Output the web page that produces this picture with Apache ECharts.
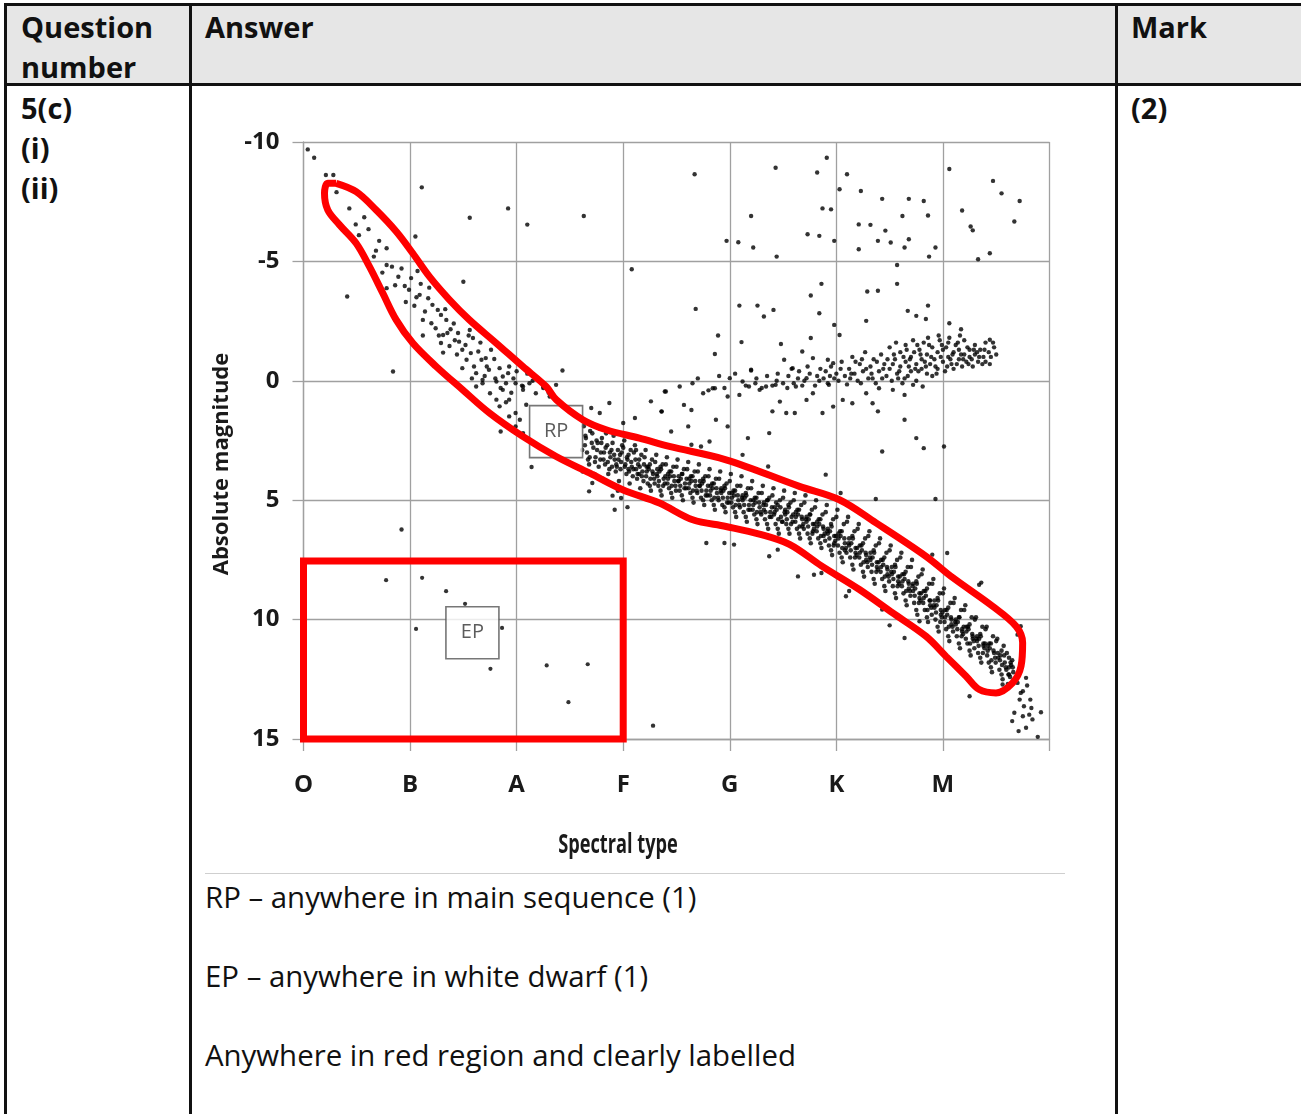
<!DOCTYPE html>
<html>
<head>
<meta charset="utf-8">
<script src="https://cdn.jsdelivr.net/npm/echarts@6/dist/echarts.min.js"></script>
<style>
	body{margin:0;width:1301px;height:1114px;background:#fff;overflow:hidden;position:relative;font-family:"Open Sans",sans-serif;color:#111;}
	.rule{position:absolute;background:#111;}
	.txt{position:absolute;font-size:29.4px;line-height:40px;white-space:nowrap;}
	.b{font-weight:bold;font-size:29px;}
	#chart{position:absolute;left:0;top:0;width:1301px;height:1114px;}
</style>
</head>
<body>
<div style="position:absolute;left:7px;top:6px;width:1294px;height:77px;background:#e6e6e6;"></div>
<div class="rule" style="left:4px;top:3px;width:1297px;height:3px;"></div>
<div class="rule" style="left:4px;top:83px;width:1297px;height:3px;"></div>
<div class="rule" style="left:4px;top:3px;width:3px;height:1111px;"></div>
<div class="rule" style="left:189px;top:3px;width:3px;height:1111px;"></div>
<div class="rule" style="left:1115px;top:3px;width:3px;height:1111px;"></div>

<div class="txt b" style="left:21px;top:7px;">Question<br>number</div>
<div class="txt b" style="left:205px;top:7px;">Answer</div>
<div class="txt b" style="left:1131px;top:7px;">Mark</div>
<div class="txt b" style="left:21px;top:88px;">5(c)<br>(i)<br>(ii)</div>
<div class="txt b" style="left:1131px;top:88px;">(2)</div>

<div style="position:absolute;left:205px;top:873px;width:860px;height:1px;background:#cfcfcf;"></div>
<div class="txt" style="left:205px;top:877px;">RP – anywhere in main sequence (1)</div>
<div class="txt" style="left:205px;top:956px;">EP – anywhere in white dwarf (1)</div>
<div class="txt" style="left:205px;top:1035px;">Anywhere in red region and clearly labelled</div>

<div id="chart"></div>
<script>
	var spectralLabels = ["O","B","A","F","G","K","M",""];
	var magnitudeMin = -10, magnitudeMax = 15, magnitudeStep = 5;
	var xTitle = "Spectral type";
	var yTitle = "Absolute magnitude";

	// main sequence, upper part (O to A)
	var mainUpper = [
		[0.31,-7.9],[0.43,-7.22],[0.49,-6.55],[0.57,-6.85],[0.61,-6.35],[0.71,-5.86],[0.68,-5.45],[0.78,-5.55],
		[0.78,-4.85],[0.74,-4.53],[0.83,-4.78],[0.89,-4.36],[0.95,-3.97],[0.78,-3.88],[1.01,-4.30],[1.10,-4.06],
		[0.99,-3.81],[1.04,-3.14],[1.09,-3.6],[1.17,-3.46],[1.21,-3.18],[1.26,-2.97],[1.12,-2.55],[1.20,-2.41],
		[1.29,-2.76],[1.34,-2.55],[1.38,-2.16],[1.31,-1.92],[1.29,-1.58],[1.37,-1.46],[1.45,-2.0],[1.46,-1.64],
		[1.49,-1.30],[1.56,-2.13],[1.59,-1.79],[1.31,-1.18],[1.53,-0.88],[1.57,-1.16],[1.64,-1.23],[1.67,-0.88],
		[1.71,-0.95],[1.79,-0.91],[1.49,-0.53],[1.62,-0.32],[1.74,-0.46],[1.84,-0.53],[1.87,-0.18],[1.92,-0.32],
		[1.93,-0.6],[1.68,0.1],[1.81,0.03],[1.99,0.1],[2.06,0.24],[0.52,-6.1],[0.66,-5.2],[0.86,-4.0],[0.92,-4.7],
		[1.06,-3.5],[1.14,-2.9],[1.24,-2.2],[1.42,-1.7],[1.52,-1.5],[1.60,-0.6],[1.70,-0.2],[1.76,-1.3],[1.85,0.3],
		[1.95,0.5],[1.62,0.24],[1.75,0.52],[1.87,0.38],[1.84,1.07],[1.93,0.79],[1.99,1.35],[2.06,0.38],[2.03,1.63],
		[2.09,1.0],[1.93,1.49],[1.81,0.79],[1.68,-0.04],[1.90,0.10],[2.12,0.10],[2.18,0.52],[2.25,0.24],[2.31,0.66],
		[2.37,0.17],[1.99,1.91],[2.06,2.19],[2.1,-0.3],[2.15,0.0],[2.2,-0.1],[2.25,0.3],[2.0,-0.4],[2.05,0.2],
		[2.3,0.5],[2.35,0.7],[1.18,-3.9],[1.33,-3.0],[1.41,-2.4],[1.55,-1.9],[1.66,-1.6],[1.72,-0.6],[1.80,-0.1],
		[1.90,0.9],[1.97,-0.1],[1.44,-1.1],[1.58,-0.1],[1.35,-2.0],[1.27,-1.9],[1.07,-4.6],[0.96,-3.3]
	];

	// main sequence, F to M (dense band)
	var mainLower = [
		[2.63,1.9],[2.65,2.4],[2.66,3.0],[2.68,3.5],[2.64,2.7],[2.69,2.1],[2.67,3.3],[2.62,3.8],
		[2.71,2.2],[2.72,2.8],[2.74,3.2],[2.75,2.5],[2.77,3.6],[2.78,2.0],[2.73,3.9],[2.79,3.0],[2.76,2.6],
		[2.80,2.4],[2.82,3.0],[2.83,3.5],[2.85,2.7],[2.86,3.9],[2.88,3.2],[2.81,4.1],[2.84,2.2],[2.87,3.7],[2.89,2.9],
		[2.90,2.6],[2.92,3.3],[2.93,3.8],[2.95,2.9],[2.96,4.2],[2.98,3.4],[2.91,2.3],[2.94,3.6],[2.97,3.1],[2.99,2.7],[2.95,4.6],
		[3.00,2.8],[3.02,3.5],[3.03,3.9],[3.05,3.1],[3.06,4.3],[3.08,3.6],[3.01,2.5],[3.04,3.3],[3.07,2.9],[3.09,4.0],[3.05,3.7],
		[3.10,3.0],[3.12,3.7],[3.13,4.1],[3.15,3.3],[3.16,4.5],[3.18,3.8],[3.11,2.7],[3.14,3.5],[3.17,3.1],[3.19,4.2],[3.15,3.9],[3.12,2.9],
		[3.20,3.2],[3.22,3.8],[3.23,4.3],[3.25,3.5],[3.26,4.6],[3.28,3.9],[3.21,2.9],[3.24,3.7],[3.27,3.3],[3.29,4.1],[3.25,4.4],[3.22,3.6],
		[3.30,3.4],[3.32,4.0],[3.33,4.4],[3.35,3.6],[3.36,4.8],[3.38,4.1],[3.31,3.1],[3.34,3.8],[3.37,3.5],[3.39,4.3],[3.35,4.6],[3.32,3.7],
		[3.40,3.5],[3.42,4.1],[3.43,4.5],[3.45,3.8],[3.46,4.9],[3.48,4.2],[3.41,3.2],[3.44,4.0],[3.47,3.6],[3.49,4.4],[3.45,4.7],[3.42,3.9],
		[3.50,3.6],[3.52,4.2],[3.53,4.6],[3.55,3.9],[3.56,5.0],[3.58,4.3],[3.51,3.3],[3.54,4.1],[3.57,3.7],[3.59,4.5],[3.55,4.8],[3.52,4.0],
		[3.60,3.7],[3.62,4.3],[3.63,4.7],[3.65,4.0],[3.66,5.1],[3.68,4.4],[3.61,3.4],[3.64,4.2],[3.67,3.8],[3.69,4.6],[3.65,4.9],[3.62,4.1],
		[3.70,3.8],[3.72,4.4],[3.73,4.9],[3.75,4.1],[3.76,5.2],[3.78,4.6],[3.71,3.5],[3.74,4.3],[3.77,4.0],[3.79,4.8],[3.75,5.0],[3.72,4.2],
		[3.80,4.0],[3.82,4.6],[3.83,5.0],[3.85,4.3],[3.86,5.4],[3.88,4.7],[3.81,3.7],[3.84,4.5],[3.87,4.1],[3.89,4.9],[3.85,5.2],[3.82,4.4],
		[3.90,4.1],[3.92,4.7],[3.93,5.2],[3.95,4.4],[3.96,5.5],[3.98,4.9],[3.91,3.8],[3.94,4.6],[3.97,4.3],[3.99,5.1],[3.95,5.3],[3.92,4.5],
		[4.00,4.2],[4.02,4.9],[4.03,5.3],[4.05,4.6],[4.06,5.7],[4.08,5.0],[4.01,3.9],[4.04,4.8],[4.07,4.4],[4.09,5.2],[4.05,5.5],[4.02,4.7],
		[4.10,4.4],[4.12,5.0],[4.13,5.5],[4.15,4.7],[4.16,5.9],[4.18,5.2],[4.11,4.0],[4.14,4.9],[4.17,4.5],[4.19,5.4],[4.15,5.7],[4.12,4.8],
		[4.20,4.5],[4.22,5.2],[4.23,5.6],[4.25,4.9],[4.26,6.0],[4.28,5.3],[4.21,4.2],[4.24,5.1],[4.27,4.7],[4.29,5.5],[4.25,5.8],[4.22,5.0],
		[4.30,4.7],[4.32,5.4],[4.33,5.8],[4.35,5.0],[4.36,6.2],[4.38,5.5],[4.31,4.4],[4.34,5.2],[4.37,4.9],[4.39,5.7],[4.35,6.0],[4.32,5.1],
		[4.40,4.8],[4.42,5.5],[4.43,6.0],[4.45,5.2],[4.46,6.4],[4.48,5.7],[4.41,4.5],[4.44,5.4],[4.47,5.0],[4.49,5.9],[4.45,6.2],[4.42,5.3],
		[4.50,4.9],[4.52,5.6],[4.53,6.0],[4.55,5.2],[4.56,6.4],[4.58,5.7],[4.51,4.6],[4.54,5.5],[4.57,5.1],[4.59,5.9],[4.55,6.2],[4.52,5.4],
		[4.60,5.0],[4.62,5.7],[4.63,6.2],[4.65,5.4],[4.66,6.6],[4.68,5.8],[4.61,4.7],[4.64,5.6],[4.67,5.2],[4.69,6.0],[4.65,6.4],[4.62,5.5],[4.68,6.1],
		[4.70,5.1],[4.72,5.9],[4.73,6.4],[4.75,5.6],[4.76,6.8],[4.78,6.0],[4.71,4.8],[4.74,5.8],[4.77,5.4],[4.79,6.2],[4.75,6.6],[4.72,5.7],[4.78,6.3],
		[4.80,5.3],[4.82,6.1],[4.83,6.6],[4.85,5.8],[4.86,7.0],[4.88,6.2],[4.81,5.0],[4.84,6.0],[4.87,5.6],[4.89,6.4],[4.85,6.8],[4.82,5.9],[4.88,6.5],
		[4.90,5.5],[4.92,6.4],[4.93,6.9],[4.95,6.0],[4.96,7.3],[4.98,6.5],[4.91,5.2],[4.94,6.3],[4.97,5.8],[4.99,6.7],[4.95,7.1],[4.92,6.2],[4.98,6.8],
		[5.00,5.7],[5.02,6.6],[5.03,7.2],[5.05,6.3],[5.06,7.6],[5.08,6.8],[5.01,5.4],[5.04,6.5],[5.07,6.0],[5.09,7.0],[5.05,7.4],[5.02,6.4],[5.08,7.1],
		[5.10,5.9],[5.12,6.9],[5.13,7.4],[5.15,6.5],[5.16,7.9],[5.18,7.0],[5.11,5.7],[5.14,6.8],[5.17,6.3],[5.19,7.3],[5.15,7.7],[5.12,6.6],[5.18,7.2],
		[5.20,6.2],[5.22,7.2],[5.23,7.7],[5.25,6.8],[5.26,8.2],[5.28,7.3],[5.21,6.0],[5.24,7.1],[5.27,6.6],[5.29,7.6],[5.25,8.0],[5.22,6.9],[5.28,7.5],
		[5.30,6.5],[5.32,7.5],[5.33,8.0],[5.35,7.1],[5.36,8.5],[5.38,7.6],[5.31,6.3],[5.34,7.4],[5.37,6.9],[5.39,7.9],[5.35,8.3],[5.32,7.2],[5.38,7.8],
		[5.40,6.8],[5.42,7.8],[5.43,8.3],[5.45,7.4],[5.46,8.8],[5.48,7.9],[5.41,6.6],[5.44,7.7],[5.47,7.2],[5.49,8.2],[5.45,8.6],[5.42,7.5],[5.48,8.1],
		[5.50,7.1],[5.52,8.1],[5.53,8.6],[5.55,7.7],[5.56,9.1],[5.58,8.2],[5.51,6.9],[5.54,8.0],[5.57,7.5],[5.59,8.5],[5.55,8.9],[5.52,7.8],[5.58,8.4],
		[5.60,7.4],[5.62,8.4],[5.63,8.9],[5.65,8.0],[5.66,9.4],[5.68,8.5],[5.61,7.2],[5.64,8.3],[5.67,7.8],[5.69,8.8],[5.65,9.2],[5.62,8.1],[5.68,8.7],
		[5.70,7.8],[5.72,8.8],[5.73,9.3],[5.75,8.4],[5.76,9.8],[5.78,8.9],[5.71,7.5],[5.74,8.7],[5.77,8.2],[5.79,9.2],[5.75,9.6],[5.72,8.5],[5.78,9.1],
		[5.80,8.1],[5.82,9.1],[5.83,9.6],[5.85,8.7],[5.86,10.1],[5.88,9.2],[5.81,7.9],[5.84,9.0],[5.87,8.5],[5.89,9.5],[5.85,9.9],[5.82,8.8],[5.88,9.4],
		[5.90,8.5],[5.92,9.5],[5.93,10.0],[5.95,9.1],[5.96,10.5],[5.98,9.6],[5.91,8.3],[5.94,9.4],[5.97,8.9],[5.99,9.9],[5.95,10.3],[5.92,9.2],[5.98,9.8],
		[6.00,8.9],[6.02,9.9],[6.03,10.4],[6.05,9.5],[6.06,10.9],[6.08,10.0],[6.01,8.7],[6.04,9.8],[6.07,9.3],[6.09,10.3],[6.05,10.7],[6.02,9.6],[6.08,10.2],
		[6.10,9.3],[6.12,10.2],[6.13,10.7],[6.15,9.9],[6.16,11.2],[6.18,10.4],[6.11,9.1],[6.14,10.1],[6.17,9.6],[6.19,10.6],[6.15,11.0],[6.12,10.0],[6.18,10.5],
		[6.20,9.6],[6.22,10.5],[6.23,11.0],[6.25,10.2],[6.26,11.5],[6.28,10.7],[6.21,9.4],[6.24,10.4],[6.27,9.9],[6.29,10.9],[6.25,11.3],[6.22,10.3],[6.28,10.8],
		[6.30,10.0],[6.32,10.9],[6.33,11.4],[6.35,10.6],[6.36,11.8],[6.38,11.1],[6.31,9.9],[6.34,10.8],[6.37,10.3],[6.39,11.2],[6.35,11.6],[6.32,10.7],[6.38,11.0],
		[6.40,10.4],[6.42,11.3],[6.43,11.8],[6.45,11.0],[6.46,12.2],[6.48,11.4],[6.41,10.3],[6.44,11.2],[6.47,10.7],[6.49,11.6],[6.45,12.0],[6.42,11.1],
		[6.50,10.9],[6.52,11.6],[6.53,12.1],[6.55,11.3],[6.56,12.5],[6.58,11.8],[6.51,10.8],[6.54,11.5],[6.57,11.1],[6.59,12.0],[6.55,12.3],
		[6.60,11.4],[6.62,12.0],[6.63,12.4],[6.65,11.7],[6.61,12.7],[6.64,11.9],[6.66,12.2],[6.62,11.6]
	];

	// extra stars along the middle of the band, where it is darkest
	var mainCore = [
		[2.615,2.9],[2.645,2.3],[2.685,3.2],[2.705,2.6],[2.735,3.4],[2.755,2.9],[2.785,3.3],[2.795,2.6],
		[2.815,3.3],[2.835,2.8],[2.855,3.4],[2.875,3.0],[2.895,3.6],[2.915,3.1],[2.935,3.5],[2.955,3.3],[2.975,3.7],[2.985,3.0],
		[3.015,3.6],[3.035,3.2],[3.055,3.8],[3.075,3.4],[3.095,3.7],[3.115,3.3],[3.135,3.9],[3.155,3.6],[3.175,4.0],[3.195,3.5],
		[3.215,4.0],[3.235,3.6],[3.255,4.1],[3.275,3.8],[3.295,4.3],[3.315,3.9],[3.335,4.2],[3.355,3.7],[3.375,4.4],[3.395,4.0],
		[3.415,4.3],[3.435,3.8],[3.455,4.4],[3.475,4.0],[3.495,4.6],[3.515,4.2],[3.535,4.4],[3.555,3.9],[3.575,4.5],[3.595,4.1],
		[3.615,4.5],[3.635,4.0],[3.655,4.6],[3.675,4.2],[3.695,4.7],[3.715,4.4],[3.735,4.6],[3.755,4.2],[3.775,4.8],[3.795,4.4],
		[3.815,4.8],[3.835,4.3],[3.855,4.9],[3.875,4.5],[3.895,5.0],[3.915,4.6],[3.935,4.9],[3.955,4.5],[3.975,5.1],[3.995,4.7],
		[4.015,5.1],[4.035,4.6],[4.055,5.2],[4.075,4.8],[4.095,5.3],[4.115,4.9],[4.135,5.2],[4.155,4.8],[4.175,5.4],[4.195,5.0],
		[4.215,5.4],[4.235,4.9],[4.255,5.5],[4.275,5.1],[4.295,5.6],[4.315,5.2],[4.335,5.5],[4.355,5.0],[4.375,5.7],[4.395,5.3],
		[4.415,5.6],[4.435,5.1],[4.455,5.8],[4.475,5.3],[4.495,5.9],[4.515,5.5],[4.535,5.8],[4.555,5.3],[4.575,6.0],[4.595,5.6],
		[4.615,5.9],[4.635,5.4],[4.655,6.1],[4.675,5.7],[4.695,6.2],[4.715,5.8],[4.735,6.1],[4.755,5.6],[4.775,6.4],[4.795,6.0],
		[4.815,6.3],[4.835,5.8],[4.855,6.5],[4.875,6.1],[4.895,6.7],[4.915,6.3],[4.935,6.6],[4.955,6.1],[4.975,6.9],[4.995,6.5],
		[5.015,6.9],[5.035,6.3],[5.055,7.0],[5.075,6.6],[5.095,7.2],[5.115,6.8],[5.135,7.1],[5.155,6.6],[5.175,7.4],[5.195,7.0],
		[5.215,7.4],[5.235,6.9],[5.255,7.6],[5.275,7.2],[5.295,7.8],[5.315,7.4],[5.335,7.7],[5.355,7.2],[5.375,8.0],[5.395,7.6],
		[5.415,8.0],[5.435,7.5],[5.455,8.2],[5.475,7.8],[5.495,8.4],[5.515,8.0],[5.535,8.3],[5.555,7.8],[5.575,8.6],[5.595,8.2],
		[5.615,8.6],[5.635,8.1],[5.655,8.8],[5.675,8.4],[5.695,9.0],[5.715,8.6],[5.735,9.0],[5.755,8.5],[5.775,9.3],[5.795,8.9],
		[5.815,9.3],[5.835,8.8],[5.855,9.6],[5.875,9.2],[5.895,9.8],[5.915,9.4],[5.935,9.7],[5.955,9.2],[5.975,10.1],[5.995,9.7],
		[6.015,10.1],[6.035,9.6],[6.055,10.3],[6.075,9.9],[6.095,10.5],[6.115,10.1],[6.135,10.4],[6.155,9.9],[6.175,10.7],[6.195,10.3],
		[6.215,10.8],[6.235,10.3],[6.255,11.0],[6.275,10.6],[6.295,11.2],[6.315,10.8],[6.335,11.1],[6.355,10.7],[6.375,11.4],[6.395,11.0],
		[6.415,11.5],[6.435,11.0],[6.455,11.7],[6.475,11.3],[6.495,11.8],[6.515,11.4],[6.535,11.7],[6.555,11.9],[6.575,11.5],[6.595,12.1],
		[6.615,12.3],[6.635,11.8],[6.655,12.0]
	];

	// faint red dwarfs below the band
	var dwarfTail = [
		[6.70,12.65],[6.78,12.44],[6.79,12.76],[6.73,13.07],[6.72,13.35],[6.76,13.63],[6.82,13.35],[6.83,13.7],
		[6.67,13.9],[6.65,14.25],[6.75,14.05],[6.81,13.98],[6.92,13.88],[6.84,14.18],[6.71,14.67],[6.78,14.53],
		[6.89,14.91],[6.75,13.0],[6.62,12.3],[6.56,12.72],[6.73,10.28],[6.70,10.63]
	];

	// giant branch
	var giants = [
		[4.55,-0.2],[4.6,0.1],[4.65,-0.4],[4.7,0.0],[4.75,-0.3],[4.8,0.2],[4.85,-0.5],[4.88,-0.1],[4.92,0.1],[4.95,-0.6],
		[5.0,-0.3],[5.02,0.0],[5.05,-0.8],[5.08,-0.2],[5.1,0.15],[5.12,-0.5],[5.15,-1.0],[5.17,-0.3],[5.2,0.0],[5.22,-0.7],
		[5.25,-0.4],[5.27,-1.2],[5.3,-0.1],[5.32,-0.6],[5.35,-0.9],[5.37,0.1],[5.4,-0.4],[5.42,-1.1],[5.45,-0.7],[5.47,-0.2],
		[5.5,-1.4],[5.5,-0.5],[5.52,0.0],[5.55,-0.9],[5.57,-0.3],[5.6,-1.2],[5.6,-0.6],[5.62,0.1],[5.65,-1.5],[5.65,-0.8],
		[5.67,-0.2],[5.7,-1.0],[5.7,-0.4],[5.72,-1.7],[5.75,-0.7],[5.75,0.0],[5.78,-1.3],[5.8,-0.5],[5.8,-0.9],[5.82,-1.6],
		[5.85,-0.3],[5.85,-1.1],[5.88,-0.7],[5.9,-1.4],[5.9,-0.2],[5.92,-0.9],[5.95,-1.2],[5.95,-0.5],[5.97,-1.7],[6.0,-0.8],
		[6.0,-1.3],[6.02,-0.4],[6.05,-1.0],[6.05,-1.6],[6.08,-0.7],[6.1,-1.2],[6.1,-0.5],[6.12,-1.5],[6.15,-0.9],[6.15,-1.3],
		[6.18,-0.6],[6.2,-1.1],[6.2,-1.7],[6.22,-0.8],[6.25,-1.3],[6.25,-1.0],[6.28,-0.6],[6.3,-1.5],[6.3,-1.1],[6.33,-0.8],
		[6.35,-1.3],[6.38,-1.0],[6.4,-1.6],[6.4,-0.8],[6.43,-1.2],[6.45,-1.0],[6.48,-1.4],[6.5,-1.1],
		[5.33,-0.3],[5.43,-0.1],[5.48,-0.9],[5.53,-0.7],[5.58,-0.1],[5.63,-1.0],[5.68,-0.6],[5.73,-1.2],[5.77,-0.4],[5.83,-0.8],
		[5.87,-1.5],[5.93,-0.6],[5.98,-1.0],[6.03,-1.4],[6.07,-0.9],[6.13,-0.7],[6.17,-1.1],[6.23,-1.4],[6.27,-0.9],[6.32,-1.2],
		[6.37,-0.7],[5.18,-0.8],[5.23,0.1],[5.28,-0.5],[5.13,-0.1],[5.38,-0.8],[4.98,-0.1],[4.9,-0.4],[4.82,-0.2],[4.73,-0.6],
		[4.68,0.2],[4.58,-0.5],[4.5,0.1],[4.45,-0.3],[4.4,0.2],[4.35,-0.2],[4.3,0.3],[4.25,-0.1],[4.15,0.2],[4.05,-0.3],
		[3.95,0.3],[3.9,-0.2],[3.8,0.4],[3.7,-0.1],
		[3.65,0.10],[3.86,0.31],[4.0,-0.11],[4.12,0.03],[4.20,-0.46],[4.34,0.24],[4.43,0.17],[4.51,-0.88],[4.59,-0.53],
		[4.72,-0.11],[3.53,0.24],[4.78,-0.95],[4.68,-1.23],[4.92,-0.88],[4.97,-0.74],
		[3.40,0.45],[3.84,0.31],[3.98,0.66],[4.09,0.59],[4.18,0.24],[4.28,0.38],[4.40,1.28],[4.47,0.87],[4.53,1.35],
		[4.61,1.35],[4.62,0.24],[4.72,0.80],[4.78,0.52],[4.87,1.35],[4.93,0.17],[4.97,1.08],[5.06,0.80],[5.15,0.94],
		[5.28,0.52],[5.34,0.94],[5.40,0.31],[5.53,0.38],[5.64,0.59],[5.72,0.17],[5.81,0.24],[5.39,1.28],[3.57,1.01],
		[3.64,1.22],[3.75,0.52],
		[5.04,-0.5],[5.14,-0.3],[5.24,-0.9],[5.34,-0.1],[5.44,-0.5],[5.54,-1.1],[5.59,-0.4],[5.64,-0.1],[5.69,-0.9],
		[5.74,-0.5],[5.79,-1.1],[5.84,-0.6],[5.89,-1.0],[5.94,-0.3],[5.99,-1.5],[6.04,-0.6],[6.09,-1.1],[6.14,-1.6],
		[6.19,-0.9],[6.24,-0.7],[6.29,-1.3],[6.34,-1.0],[6.39,-1.3],[6.44,-0.7],[6.47,-1.6],[5.56,-1.6],[5.76,-1.5],
		[5.96,-1.9],[6.16,-1.9],[5.66,-1.3],[5.86,-1.8],[6.06,-1.8],[4.94,-0.2],[4.84,0.0],[4.64,-0.1],[4.54,0.3],
		[4.44,0.0],[4.24,0.1]
	];

	// bright giants, supergiants and scattered stars
	var scattered = [
		[0.04,-9.69],[0.10,-9.34],[0.21,-8.62],[0.28,-8.62],[1.11,-8.1],[1.56,-6.83],[1.92,-7.22],[2.10,-6.54],
		[2.63,-6.9],[1.05,-6.04],[3.08,-4.67],[0.41,-3.53],[1.50,-4.15],[0.84,-0.39],[2.43,-0.43],[1.12,-1.9],
		[3.67,-8.65],[4.43,-8.92],[4.91,-9.34],[4.82,-8.72],[5.10,-8.65],[5.03,-8.02],[5.23,-7.95],[5.43,-7.62],
		[5.68,-7.62],[5.82,-7.53],[6.06,-8.87],[6.47,-8.37],[6.55,-7.85],[6.72,-7.53],[4.87,-7.22],[4.95,-7.18],
		[4.20,-6.9],[6.18,-7.13],[6.26,-6.46],[6.28,-6.3],[6.67,-6.67],[5.62,-6.9],[5.86,-6.92],[5.21,-6.55],
		[5.32,-6.53],[5.46,-6.29],[5.39,-5.86],[5.51,-5.79],[5.68,-5.93],[5.64,-5.58],[5.93,-5.58],[5.21,-5.51],
		[5.87,-5.2],[6.33,-5.09],[6.44,-5.34],[3.97,-5.86],[4.08,-5.8],[4.22,-5.58],[4.44,-5.2],[4.73,-6.14],
		[4.84,-6.07],[4.98,-5.86],[5.57,-4.85],[5.57,-4.06],[5.29,-3.74],[5.39,-3.77],[4.86,-4.06],[4.76,-3.57],
		[4.84,-2.83],[5.67,-2.93],[5.75,-2.72],[5.86,-3.15],[5.84,-2.59],[5.28,-2.51],[3.68,-3.01],[4.09,-3.15],
		[4.26,-3.15],[4.41,-2.97],[4.32,-2.69],[3.89,-1.9],[3.86,-1.12],[4.11,-1.62],[4.48,-1.54],[4.76,-1.79],
		[4.98,-2.34],[5.03,-1.92],[6.06,-2.41],[6.17,-2.16],[6.44,-1.72],[4.20,-0.43],
		[3.87,1.63],[3.61,1.91],[3.45,2.12],[3.36,1.29],[4.12,3.10],[4.36,3.59],[4.90,3.93],[5.04,4.70],
		[5.37,4.95],[5.93,4.95],[5.43,2.96],[5.82,2.82],[5.75,2.40],[6.01,2.75],[5.64,1.63],[4.37,2.19],
		[4.17,2.40],[3.81,2.54],[3.73,2.75],[3.64,2.68],[3.98,1.91],[3.78,6.79],[3.95,6.79],[4.04,6.86],
		[4.37,7.35],[4.45,7.07],[5.90,7.28],[6.04,7.21],[4.64,8.19],[4.79,8.12],[4.86,8.05],[5.12,8.8],
		[5.09,9.02],[5.43,9.58],[5.78,10.07],[5.64,10.77],[5.50,10.24],[6.25,13.21],[6.34,8.54],[6.36,8.45],
		[1.85,2.12],[2.14,3.61],[2.71,4.28],[2.68,4.63],[2.92,5.40],[3.04,5.29],[2.90,4.81],[2.98,4.91],
		[0.92,6.23],[3.26,0.86],[3.36,1.28],[3.11,1.56],[3.00,1.77],[3.39,0.45],[2.87,0.93],[2.70,1.14],
		[2.78,1.35],[3.28,14.44]
	];

	var whiteDwarfs = [
		[0.775,8.35],[1.113,8.25],[1.338,8.81],[1.516,9.34],[1.056,10.39],[1.863,10.35],
		[1.754,12.06],[2.282,11.92],[2.667,11.87],[2.486,13.46]
	];

	// hand-drawn red outline round the main sequence
	var mainOutline = [
		[0.307,-8.27],[0.494,-7.92],[0.682,-7.15],[0.870,-6.25],[1.025,-5.34],[1.182,-4.36],[1.370,-3.39],
		[1.557,-2.55],[1.808,-1.58],[2.057,-0.60],[2.277,0.24],[2.371,0.79],[2.620,1.63],[2.840,2.05],
		[3.152,2.40],[3.433,2.75],[3.965,3.31],[4.653,4.42],[5.028,4.98],[5.372,5.95],[5.841,7.35],
		[6.091,8.24],[6.466,9.44],[6.686,10.28],[6.748,10.97],[6.733,11.95],[6.654,12.65],[6.498,13.07],
		[6.341,12.93],[6.217,12.37],[6.029,11.54],[5.841,10.70],[5.528,9.72],[5.216,8.74],[4.86,7.75],
		[4.56,6.85],[4.278,6.42],[3.965,6.10],[3.652,5.82],[3.340,5.12],[2.995,4.56],[2.683,3.86],
		[2.371,3.17],[2.057,2.33],[1.745,1.35],[1.494,0.38],[1.245,-0.60],[1.025,-1.58],[0.870,-2.55],
		[0.744,-3.67],[0.619,-4.78],[0.494,-5.76],[0.338,-6.53],[0.228,-7.15],[0.197,-7.85],[0.228,-8.27],
		[0.307,-8.27]
	];

	// red box round the white dwarfs
	var dwarfBox = [[0,7.55],[3,7.55],[3,15],[0,15],[0,7.55]];

	// labelled boxes drawn on the diagram
	var labelBoxes = [
		{name:"RP", value:[2.37,2.13]},
		{name:"EP", value:[1.585,10.55]}
	];

	var myChart = echarts.init(document.getElementById('chart'));
	var gridColor = "#a0a0a0";
	var dotStyle = {color:"#000"};
	function dots(data, size){
		return {type:'scatter', data:data, symbolSize:size, itemStyle:dotStyle, z:2, silent:true};
	}
	var option = {
		animation:false,
		grid:{left:303.5, top:142, width:746, height:597},
		graphic:[
			{type:'text', x:618, y:846, scaleX:0.7, silent:true,
				style:{text:xTitle, font:'bold 26px "Open Sans", sans-serif', fill:'#1a1a1a', align:'center', verticalAlign:'middle'}},
			{type:'text', x:222, y:464, rotation:Math.PI/2, silent:true,
				style:{text:yTitle, font:'bold 22px "Open Sans", sans-serif', fill:'#1a1a1a', align:'center', verticalAlign:'middle'}}
		],
		xAxis:{
			type:'value', min:0, max:7, interval:1,
			axisLine:{onZero:false, lineStyle:{color:gridColor, width:1.3}},
			axisTick:{show:true, length:12, lineStyle:{color:gridColor, width:1.3}},
			axisLabel:{margin:34, fontFamily:'"Open Sans",sans-serif', fontWeight:'bold', fontSize:24, color:'#1a1a1a',
				formatter:function(v){ return spectralLabels[v] || ''; }},
			splitLine:{show:true, lineStyle:{color:gridColor, width:1.3}}
		},
		yAxis:{
			type:'value', inverse:true, min:magnitudeMin, max:magnitudeMax, interval:magnitudeStep,
			axisLine:{onZero:false, lineStyle:{color:gridColor, width:1.3}},
			axisTick:{show:true, length:11, lineStyle:{color:gridColor, width:1.3}},
			axisLabel:{margin:24, fontFamily:'"Open Sans",sans-serif', fontWeight:'bold', fontSize:24, color:'#1a1a1a'},
			splitLine:{show:true, lineStyle:{color:gridColor, width:1.3}}
		},
		series:[
			dots(mainUpper, 4.4),
			dots(mainLower, 4.6),
			dots(mainCore, 4.6),
			dots(dwarfTail, 4.4),
			dots(giants, 4.4),
			dots(scattered, 4.4),
			dots(whiteDwarfs, 4.2),
			{
				type:'scatter', data:labelBoxes, symbol:'rect', symbolSize:[53,52], z:4, silent:true,
				itemStyle:{color:'#fff', borderColor:'#555', borderWidth:1.6},
				label:{show:true, position:'inside', formatter:'{b}', fontFamily:'"Open Sans",sans-serif', fontSize:20, color:'#333'}
			},
			{
				type:'line', data:mainOutline, smooth:0.35, symbol:'none', clip:false, z:5, silent:true,
				lineStyle:{color:'#ff0000', width:7}
			},
			{
				type:'line', data:dwarfBox, symbol:'none', clip:false, z:5, silent:true,
				lineStyle:{color:'#ff0000', width:7, join:'miter', cap:'square'}
			}
		]
	};
	myChart.setOption(option);
</script>
</body>
</html>
